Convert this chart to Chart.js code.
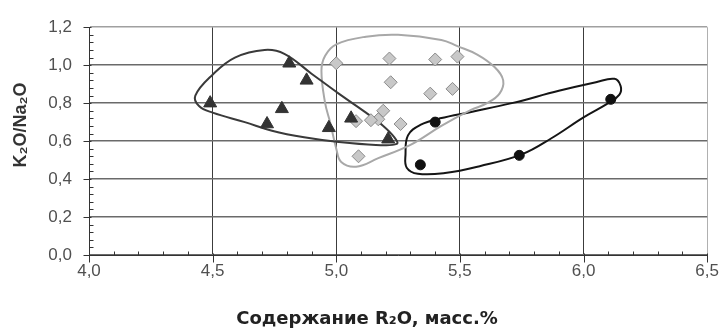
<!DOCTYPE html>
<html><head><meta charset="utf-8">
<script src="https://cdn.jsdelivr.net/npm/chart.js@4.4.1/dist/chart.umd.min.js"></script>
<style>html,body{margin:0;padding:0;background:#fff}#wrap{width:725px;height:328px;position:relative}</style>
</head><body><div id="wrap"><canvas id="c"></canvas></div>
<script>
// Axis ticks
const xTicks = [4.0, 4.5, 5.0, 5.5, 6.0, 6.5];
const yTicks = [0.0, 0.2, 0.4, 0.6, 0.8, 1.0, 1.2];
const xTitle = 'Содержание R₂O, масс.%';
const yTitle = 'K₂O/Na₂O';

// Series: triangles
const triX = [4.49, 4.81, 4.88, 4.78, 4.72, 4.97, 5.06, 5.21];
const triY = [0.80, 1.01, 0.92, 0.77, 0.69, 0.67, 0.72, 0.61];
// Series: diamonds
const diaX = [5.00, 5.215, 5.40, 5.49, 5.22, 5.38, 5.47, 5.19, 5.17, 5.14, 5.08, 5.26, 5.09];
const diaY = [1.01, 1.035, 1.03, 1.045, 0.91, 0.85, 0.875, 0.76, 0.715, 0.71, 0.705, 0.69, 0.52];
// Series: circles
const cirX = [5.40, 5.34, 5.74, 6.11];
const cirY = [0.70, 0.475, 0.525, 0.82];

// Hand-drawn field outlines (closed curves)
const triOutX = [4.43, 4.50, 4.59, 4.71, 4.79, 4.90, 5.01, 5.12, 5.19, 5.235, 5.245, 5.16, 5.01, 4.87, 4.74, 4.63, 4.50, 4.445];
const triOutY = [0.84, 0.95, 1.04, 1.08, 1.06, 0.955, 0.85, 0.75, 0.68, 0.62, 0.585, 0.58, 0.595, 0.62, 0.655, 0.70, 0.75, 0.785];
const diaOutX = [4.955, 5.00, 5.12, 5.25, 5.425, 5.49, 5.57, 5.64, 5.675, 5.66, 5.61, 5.545, 5.425, 5.30, 5.17, 5.08, 5.02, 5.00, 4.975, 4.955, 4.94];
const diaOutY = [1.05, 1.11, 1.15, 1.16, 1.133, 1.10, 1.056, 0.99, 0.92, 0.85, 0.80, 0.764, 0.68, 0.58, 0.51, 0.465, 0.49, 0.56, 0.70, 0.80, 0.97];
const cirOutX = [5.29, 5.34, 5.42, 5.55, 5.71, 5.90, 6.05, 6.125, 6.15, 6.145, 6.10, 6.00, 5.87, 5.75, 5.58, 5.44, 5.33, 5.285, 5.28];
const cirOutY = [0.63, 0.685, 0.72, 0.755, 0.80, 0.865, 0.91, 0.928, 0.89, 0.845, 0.80, 0.725, 0.615, 0.53, 0.468, 0.432, 0.428, 0.46, 0.53];

const pts = (xs, ys) => xs.map((x, i) => ({x, y: ys[i]}));
function loop(xs, ys) {
  const p = pts(xs, ys), n = p.length;
  return [p[n - 1], ...p, p[0], p[1]];
}
function outline(xs, ys, color) {
  const n = xs.length;
  return {
    data: loop(xs, ys), showLine: true, tension: 0.4, pointRadius: 0, pointHoverRadius: 0,
    borderColor: color, borderWidth: 2, fill: false, order: 2,
    segment: { borderColor: c => (c.p0DataIndex === 0 || c.p0DataIndex === n + 1) ? 'rgba(0,0,0,0)' : color }
  };
}

const fmt = v => Number(v).toFixed(1).replace('.', ',');

const minorTicks = {
  id: 'minorTicks',
  afterDraw(chart) {
    const {ctx, scales: {x, y}} = chart;
    ctx.save();
    ctx.strokeStyle = '#333';
    ctx.lineWidth = 1;
    const y0 = Math.round(y.getPixelForValue(0)) + 0.5;
    const x0 = Math.round(x.getPixelForValue(4)) + 0.5;
    ctx.beginPath();
    for (let i = 0; i <= 25; i++) {
      const px = Math.round(x.getPixelForValue(4 + i * 0.1)) + 0.5;
      if (i % 5 === 0) { ctx.moveTo(px, y0 - 2); ctx.lineTo(px, y0 + 7); }
      else { ctx.moveTo(px, y0 - 4); ctx.lineTo(px, y0); }
    }
    for (let i = 0; i <= 30; i++) {
      const py = Math.round(y.getPixelForValue(i * 0.04)) + 0.5;
      if (i % 5 === 0) { ctx.moveTo(x0 - 6, py); ctx.lineTo(x0 + 2, py); }
      else { ctx.moveTo(x0, py); ctx.lineTo(x0 + 4, py); }
    }
    ctx.stroke();
    // y-axis title (placed off-centre as in the original)
    ctx.fillStyle = '#333';
    ctx.font = 'bold 18px "Liberation Sans", Arial, sans-serif';
    ctx.textAlign = 'center';
    ctx.textBaseline = 'middle';
    ctx.translate(21, 125);
    ctx.rotate(-Math.PI / 2);
    ctx.fillText(yTitle, 0, 0);
    ctx.restore();
  }
};

new Chart(document.getElementById('c'), {
  type: 'scatter',
  data: {
    datasets: [
      { data: pts(triX, triY), pointStyle: 'triangle', pointRadius: 7.5, pointHoverRadius: 7.5,
        backgroundColor: '#333', borderColor: '#333', borderWidth: 1, order: 0 },
      { data: pts(diaX, diaY), pointStyle: 'rectRot', pointRadius: 6.5, pointHoverRadius: 6.5,
        backgroundColor: '#c8c8c8', borderColor: '#8a8a8a', borderWidth: 1, order: 0 },
      { data: pts(cirX, cirY), pointStyle: 'circle', pointRadius: 5, pointHoverRadius: 5,
        backgroundColor: '#111', borderColor: '#111', borderWidth: 1, order: 0 },
      outline(triOutX, triOutY, '#3a3a3a'),
      outline(diaOutX, diaOutY, '#a8a8a8'),
      outline(cirOutX, cirOutY, '#151515')
    ]
  },
  options: {
    responsive: true, maintainAspectRatio: false, animation: false,
    layout: { padding: { top: 22, right: 15, left: 24, bottom: 0 } },
    plugins: {
      legend: { display: false }, tooltip: { enabled: false },
      title: { display: true, position: 'bottom', text: xTitle, color: '#222',
        font: { family: 'DejaVu Sans', size: 18, weight: 'bold', lineHeight: 1 }, padding: { top: 4, bottom: 0 } }
    },
    scales: {
      x: {
        type: 'linear', min: 4, max: 6.5,
        afterBuildTicks: s => { s.ticks = xTicks.map(v => ({value: v})); },
        afterFit: s => { s.height = 51; },
        ticks: { callback: fmt, color: '#505050', font: { family: 'Liberation Sans', size: 17 }, padding: 6, maxRotation: 0, autoSkip: false },
        grid: { drawTicks: false, lineWidth: 1, color: c => (c.tick && c.tick.value === 6.5) ? '#b0b0b0' : '#3c3c3c' },
        border: { color: '#333', width: 1 }
      },
      y: {
        min: 0, max: 1.2,
        afterBuildTicks: s => { s.ticks = yTicks.map(v => ({value: v})); },
        afterFit: s => { s.width = 65; },
        ticks: { callback: fmt, color: '#505050', font: { family: 'Liberation Sans', size: 17 }, padding: 17, autoSkip: false },
        grid: { drawTicks: false, lineWidth: 1.5, color: c => (c.tick && c.tick.value === 1.2) ? '#a0a0a0' : '#6a6a6a' },
        border: { color: '#333', width: 1 }
      }
    }
  },
  plugins: [minorTicks]
});
</script>
</body></html>
